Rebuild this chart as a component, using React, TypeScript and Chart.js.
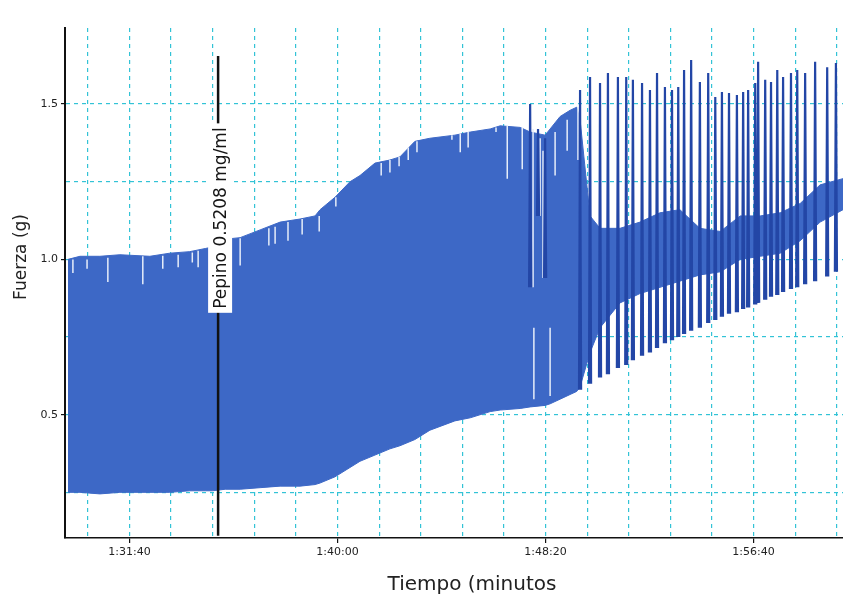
import React, { useEffect, useRef } from "react";
import { Chart, registerables } from "chart.js";
Chart.register(...registerables);

// ---- axes ----
const X_MIN = 5345;
const X_MAX = 7215;
const Y_MIN = 0.103;
const Y_MAX = 1.745;
const xGridValues = [5400, 5500, 5600, 5700, 5800, 5900, 6000, 6100, 6200, 6300, 6400, 6500, 6600, 6700, 6800, 6900, 7000, 7100, 7200];
const xTickValues = [5500, 6000, 6500, 7000];
const xTickLabels = ["1:31:40", "1:40:00", "1:48:20", "1:56:40"];
const yGridValues = [0.25, 0.5, 0.75, 1.0, 1.25, 1.5];
const yTickValues = [0.5, 1.0, 1.5];
const yTickLabels = ["0.5", "1.0", "1.5"];
const xTitle = "Tiempo (minutos";
const yTitle = "Fuerza (g)";

// ---- dense recording band (envelope of the force trace) ----
const bandTimes = [5352, 5381, 5429, 5477, 5549, 5597, 5645, 5682, 5700, 5730, 5766, 5814, 5862, 5910, 5946, 5958, 5994, 6030, 6054, 6090, 6126, 6150, 6186, 6222, 6282, 6319, 6367, 6391, 6439, 6463, 6499, 6511, 6535, 6559, 6575, 6583, 6607, 6631, 6679, 6727, 6775, 6823, 6871, 6920, 6968, 7016, 7064, 7112, 7160, 7215];
const bandUpper = [1.0, 1.01, 1.01, 1.015, 1.01, 1.02, 1.025, 1.035, 1.04, 1.065, 1.07, 1.095, 1.12, 1.13, 1.14, 1.16, 1.2, 1.25, 1.27, 1.31, 1.32, 1.33, 1.38, 1.39, 1.4, 1.41, 1.42, 1.43, 1.425, 1.41, 1.4, 1.42, 1.46, 1.48, 1.49, 1.45, 1.14, 1.1, 1.1, 1.12, 1.15, 1.16, 1.1, 1.09, 1.14, 1.14, 1.15, 1.18, 1.24, 1.26];
const bandLower = [0.25, 0.25, 0.245, 0.25, 0.25, 0.25, 0.255, 0.255, 0.255, 0.26, 0.26, 0.265, 0.27, 0.27, 0.275, 0.28, 0.3, 0.33, 0.35, 0.37, 0.39, 0.4, 0.42, 0.45, 0.48, 0.49, 0.51, 0.515, 0.52, 0.525, 0.53, 0.535, 0.55, 0.565, 0.575, 0.59, 0.7, 0.78, 0.86, 0.89, 0.91, 0.93, 0.95, 0.96, 1.0, 1.01, 1.02, 1.06, 1.12, 1.16];

// ---- individual contraction spikes ----
const spikeTimes = [6463, 6482, 6499, 6583, 6607, 6631, 6650, 6674, 6694, 6710, 6732, 6751, 6768, 6787, 6804, 6819, 6833, 6850, 6871, 6891, 6908, 6924, 6941, 6960, 6975, 6987, 7004, 7011, 7028, 7042, 7057, 7071, 7090, 7105, 7124, 7148, 7177, 7198];
const spikePeaks = [1.5, 1.42, 1.39, 1.545, 1.587, 1.568, 1.6, 1.587, 1.587, 1.578, 1.568, 1.545, 1.6, 1.555, 1.545, 1.555, 1.61, 1.642, 1.571, 1.6, 1.523, 1.539, 1.536, 1.529, 1.539, 1.545, 1.568, 1.636, 1.578, 1.571, 1.61, 1.587, 1.6, 1.61, 1.6, 1.636, 1.619, 1.632];
const spikeTroughs = [0.91, 1.14, 0.94, 0.58, 0.6, 0.62, 0.63, 0.65, 0.66, 0.675, 0.69, 0.7, 0.715, 0.73, 0.74, 0.75, 0.76, 0.77, 0.78, 0.795, 0.805, 0.815, 0.825, 0.83, 0.84, 0.845, 0.855, 0.86, 0.87, 0.88, 0.885, 0.895, 0.905, 0.91, 0.92, 0.93, 0.945, 0.96];

// ---- light notches inside the band ----
const notchTimes = [5364, 5398, 5448, 5532, 5580, 5617, 5651, 5665, 5766, 5835, 5850, 5881, 5915, 5956, 5996, 6105, 6126, 6148, 6170, 6191, 6275, 6295, 6314, 6381, 6408, 6444, 6470, 6472, 6487, 6494, 6511, 6523, 6552, 6578];
const notchFrom = [1.0, 1.0, 1.005, 1.01, 1.012, 1.015, 1.022, 1.028, 1.068, 1.1, 1.105, 1.12, 1.13, 1.14, 1.2, 1.31, 1.32, 1.33, 1.36, 1.38, 1.4, 1.405, 1.41, 1.425, 1.43, 1.425, 1.42, 0.78, 1.39, 1.35, 0.78, 1.41, 1.45, 1.49];
const notchTo = [0.956, 0.97, 0.927, 0.92, 0.97, 0.975, 0.99, 0.975, 0.98, 1.045, 1.05, 1.06, 1.08, 1.09, 1.17, 1.27, 1.28, 1.3, 1.32, 1.345, 1.385, 1.345, 1.36, 1.41, 1.26, 1.29, 0.91, 0.55, 1.14, 0.94, 0.56, 1.27, 1.35, 1.32];

// ---- drug addition marker ----
const markerTime = 5713;
const markerTop = 1.655;
const markerBottom = 0.11;
const markerLabelCenter = 1.133;
const markerLabel = "Pepino 0.5208 mg/ml";

const BAND = "#3d68c6";
const SPIKE = "#2346a6";
const NOTCH = "#e6edf9";
const GRID = "#33c3d6";

function buildSpikes() {
  const pts: any[] = [];
  spikeTimes.forEach((t, i) => {
    pts.push({ x: t - 2.5, y: spikeTroughs[i] });
    pts.push({ x: t, y: spikePeaks[i] });
    pts.push({ x: t + 2.5, y: spikeTroughs[i] });
    pts.push({ x: t + 3, y: null });
  });
  return pts;
}

function buildNotches() {
  const pts: any[] = [];
  notchTimes.forEach((t, i) => {
    pts.push({ x: t, y: notchFrom[i] });
    pts.push({ x: t, y: notchTo[i] });
    pts.push({ x: t + 0.5, y: null });
  });
  return pts;
}

const overlayPlugin = {
  id: "overlay",
  afterDatasetsDraw(chart: any) {
    const { ctx, scales } = chart;
    const x = scales.x;
    const y = scales.y;
    const px = x.getPixelForValue(markerTime);
    ctx.save();
    ctx.strokeStyle = "#111";
    ctx.lineWidth = 2.5;
    ctx.beginPath();
    ctx.moveTo(px, y.getPixelForValue(markerTop));
    ctx.lineTo(px, y.getPixelForValue(markerBottom));
    ctx.stroke();
    const cy = y.getPixelForValue(markerLabelCenter);
    ctx.font = '17px "DejaVu Sans"';
    const w = ctx.measureText(markerLabel).width;
    ctx.translate(px + 2, cy);
    ctx.rotate(-Math.PI / 2);
    ctx.fillStyle = "#ffffff";
    ctx.fillRect(-w / 2 - 4, -12, w + 8, 24);
    ctx.fillStyle = "#151515";
    ctx.textAlign = "center";
    ctx.textBaseline = "middle";
    ctx.fillText(markerLabel, 0, 1);
    ctx.restore();
  },
  afterDraw(chart: any) {
    const { ctx } = chart;
    ctx.save();
    ctx.fillStyle = "#222";
    ctx.textAlign = "center";
    ctx.textBaseline = "middle";
    ctx.font = '20px "DejaVu Sans"';
    ctx.fillText(xTitle, 472, 585);
    ctx.translate(22, 257);
    ctx.rotate(-Math.PI / 2);
    ctx.font = '17px "DejaVu Sans"';
    ctx.fillText(yTitle, 0, 0);
    ctx.restore();
  },
};

export default function App() {
  const ref = useRef<HTMLCanvasElement | null>(null);
  useEffect(() => {
    if (!ref.current) return;
    const chart = new Chart(ref.current, {
      type: "line",
      data: {
        datasets: [
          {
            label: "spikes",
            data: buildSpikes(),
            borderColor: SPIKE,
            backgroundColor: SPIKE,
            borderWidth: 2.2,
            pointRadius: 0,
            spanGaps: false,
            fill: false,
            order: 1,
          },
          {
            label: "notches",
            data: buildNotches(),
            borderColor: NOTCH,
            borderWidth: 1.5,
            pointRadius: 0,
            spanGaps: false,
            fill: false,
            order: 2,
          },
          {
            label: "upper",
            data: bandTimes.map((t, i) => ({ x: t, y: bandUpper[i] })),
            borderColor: BAND,
            backgroundColor: BAND,
            borderWidth: 1,
            pointRadius: 0,
            fill: "+1",
            order: 3,
          },
          {
            label: "lower",
            data: bandTimes.map((t, i) => ({ x: t, y: bandLower[i] })),
            borderColor: BAND,
            borderWidth: 1,
            pointRadius: 0,
            fill: false,
            order: 4,
          },
        ],
      },
      options: {
        animation: false,
        responsive: false,
        maintainAspectRatio: false,
        layout: { padding: { top: 28, right: 0, bottom: 0, left: 0 } },
        plugins: { legend: { display: false }, tooltip: { enabled: false } },
        elements: { line: { tension: 0 } },
        scales: {
          x: {
            type: "linear",
            min: X_MIN,
            max: X_MAX,
            afterBuildTicks: (s: any) => {
              s.ticks = xGridValues.map((v) => ({ value: v }));
            },
            afterFit: (s: any) => {
              s.height = 60;
            },
            ticks: {
              autoSkip: false,
              maxRotation: 0,
              padding: 3,
              color: "#222",
              font: { family: "DejaVu Sans", size: 11 },
              callback: (v: any) => {
                const i = xTickValues.indexOf(Number(v));
                return i >= 0 ? xTickLabels[i] : "";
              },
            },
            grid: {
              color: GRID,
              lineWidth: 1.2,
              tickLength: 5,
              tickColor: (c: any) => (c.tick && xTickValues.includes(c.tick.value) ? "#111" : "rgba(0,0,0,0)"),
              tickWidth: 1.2,
            },
            border: { display: true, color: "#111", width: 1.5, dash: [4, 4] },
          },
          y: {
            type: "linear",
            min: Y_MIN,
            max: Y_MAX,
            afterBuildTicks: (s: any) => {
              s.ticks = yGridValues.map((v) => ({ value: v }));
            },
            afterFit: (s: any) => {
              s.width = 65;
            },
            ticks: {
              autoSkip: false,
              padding: 3,
              color: "#222",
              font: { family: "DejaVu Sans", size: 11 },
              callback: (v: any) => {
                const i = yTickValues.indexOf(Number(v));
                return i >= 0 ? yTickLabels[i] : "";
              },
            },
            grid: {
              color: GRID,
              lineWidth: 1.2,
              tickLength: 4,
              tickColor: (c: any) => (c.tick && yTickValues.includes(c.tick.value) ? "#111" : "rgba(0,0,0,0)"),
              tickWidth: 1.2,
            },
            border: { display: true, color: "#111", width: 2, dash: [4, 4] },
          },
        },
      },
      plugins: [overlayPlugin],
    } as any);
    return () => chart.destroy();
  }, []);
  return (
    <div style={{ position: "fixed", left: 0, top: 0, width: 843, height: 598, background: "#fff" }}>
      <canvas ref={ref} width={843} height={598} style={{ display: "block", width: 843, height: 598 }} />
    </div>
  );
}
